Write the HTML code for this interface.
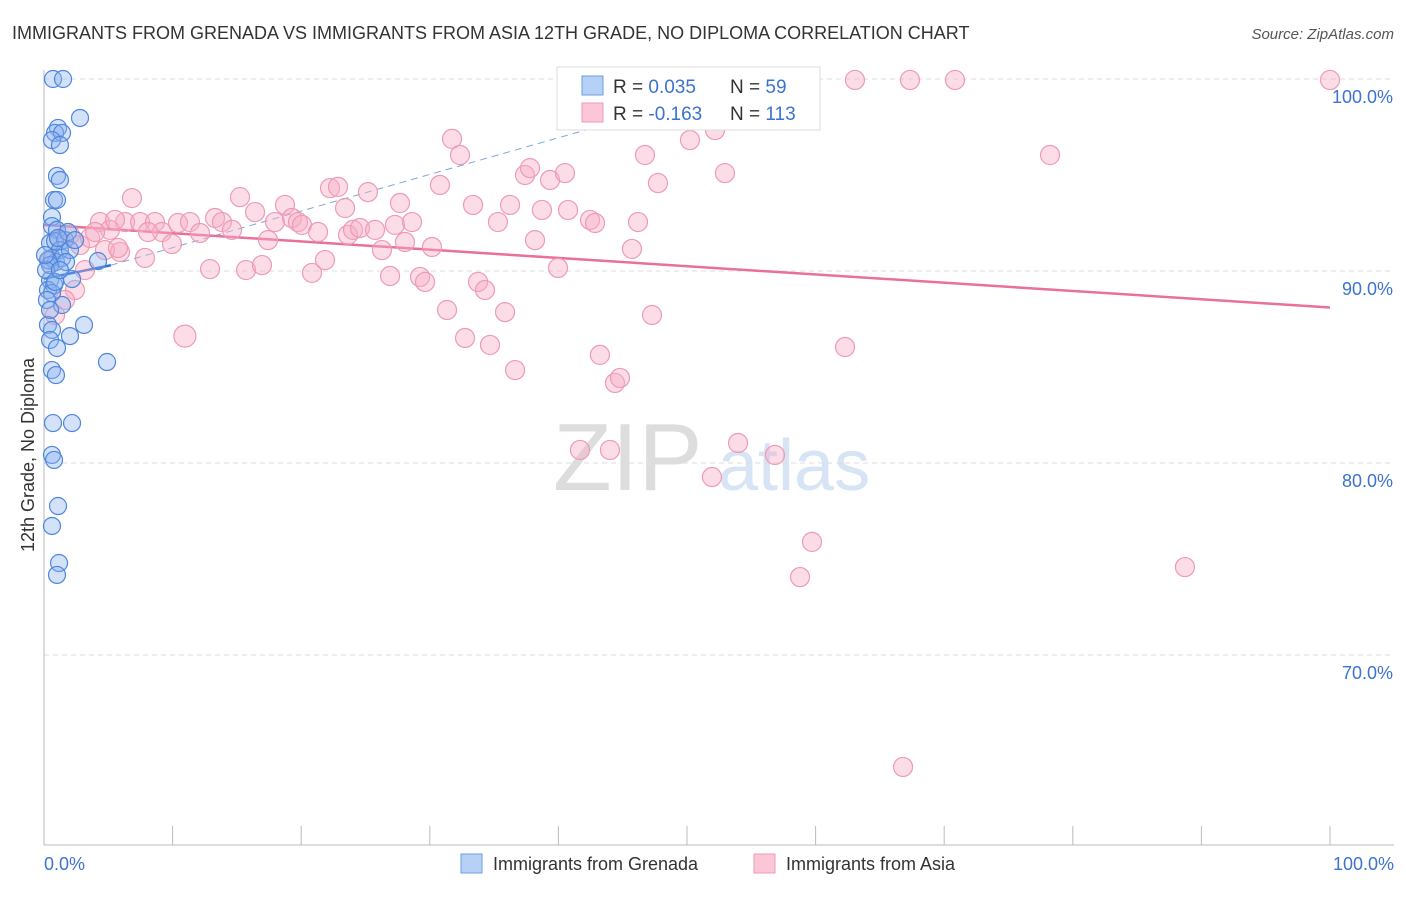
<!DOCTYPE html>
<html><head><meta charset="utf-8">
<style>
body{margin:0;background:#fff;font-family:"Liberation Sans",sans-serif;}
svg text{font-family:"Liberation Sans",sans-serif;}
</style></head>
<body>
<svg id="chart" width="1406" height="892" xmlns="http://www.w3.org/2000/svg">
<text x="12" y="39" font-size="18" fill="#333">IMMIGRANTS FROM GRENADA VS IMMIGRANTS FROM ASIA 12TH GRADE, NO DIPLOMA CORRELATION CHART</text>
<text x="1394" y="39" font-size="15" fill="#555" font-style="italic" text-anchor="end">Source: ZipAtlas.com</text>
<text transform="translate(34,455) rotate(-90)" font-size="18" fill="#333" text-anchor="middle">12th Grade, No Diploma</text>
<g><text x="553" y="490" font-size="96" fill="#ddd" font-family="Liberation Serif">ZIP</text><text x="718" y="490" font-size="72" fill="#d6e4f5">atlas</text></g>
<g id="grid"></g><g id="xticks"></g><g id="trend"></g><g id="pts"></g>
<g>
<rect x="557" y="67" width="263" height="63" fill="#fff" stroke="#ddd"/>
<rect x="582" y="76" width="21" height="19" fill="#b7d0f5" stroke="#6e9ee0"/>
<rect x="582" y="103" width="21" height="19" fill="#fbc6d6" stroke="#ec9bb4"/>
<text x="613" y="93" font-size="19" fill="#333">R = <tspan fill="#3c72d0">0.035</tspan></text>
<text x="730" y="93" font-size="19" fill="#333">N = <tspan fill="#3c72d0"> 59</tspan></text>
<text x="613" y="120" font-size="19" fill="#333">R = <tspan fill="#3c72d0">-0.163</tspan></text>
<text x="730" y="120" font-size="19" fill="#333">N = <tspan fill="#3c72d0">113</tspan></text>
</g>
<g>
<rect x="461" y="854" width="21" height="19" fill="#b7d0f5" stroke="#6e9ee0"/>
<text x="493" y="870" font-size="18" fill="#333">Immigrants from Grenada</text>
<rect x="754" y="854" width="21" height="19" fill="#fbc6d6" stroke="#ec9bb4"/>
<text x="786" y="870" font-size="18" fill="#333">Immigrants from Asia</text>
</g>
<text x="44" y="870" font-size="18" fill="#3c72d0">0.0%</text>
<text x="1394" y="870" font-size="18" fill="#3c72d0" text-anchor="end">100.0%</text>
</svg>
<script>
const yTicks=[100,90,80,70];
const yTickLabels=["100.0%","90.0%","80.0%","70.0%"];
const xTicks=[0,10,20,30,40,50,60,70,80,90,100];
const grenadaPx=[[53,79],[63,79],[58,128],[80,118],[55,133],[62,133],[52,140],[60,145],[57,176],[60,180],[54,200],[57,200],[52,217],[52,226],[57,230],[50,243],[55,241],[65,240],[60,250],[52,258],[56,262],[62,258],[98,261],[72,279],[50,280],[54,285],[48,290],[52,293],[62,305],[84,325],[48,325],[52,330],[70,336],[50,340],[57,348],[107,362],[52,370],[56,375],[53,423],[72,423],[52,455],[54,460],[58,506],[52,526],[59,563],[57,575],[48,260],[50,265],[70,250],[68,232],[75,240],[47,300],[50,310],[66,262],[46,270],[58,238],[45,255],[55,282],[60,270]];
const asiaPx=[[132,198],[100,222],[125,222],[140,222],[155,222],[162,232],[172,244],[185,336],[178,223],[190,222],[200,233],[210,269],[215,218],[222,222],[232,230],[240,197],[246,270],[255,212],[262,265],[268,240],[275,222],[285,205],[292,218],[298,222],[302,225],[312,273],[318,232],[325,260],[330,188],[338,187],[345,208],[348,235],[353,230],[360,228],[368,192],[375,230],[382,250],[390,276],[395,225],[400,203],[405,242],[412,222],[420,277],[425,282],[432,247],[440,185],[447,310],[452,139],[460,155],[465,338],[473,205],[478,282],[485,290],[490,345],[498,222],[505,312],[510,205],[515,370],[525,175],[530,168],[535,240],[542,210],[550,180],[558,268],[565,173],[568,210],[580,450],[590,220],[595,223],[600,355],[610,450],[615,383],[620,378],[632,249],[638,222],[645,155],[652,315],[658,183],[690,140],[715,130],[712,477],[725,173],[738,443],[760,80],[775,455],[800,577],[812,542],[845,347],[855,80],[903,767],[910,80],[955,80],[1050,155],[1185,567],[1330,80],[60,240],[70,235],[80,245],[90,238],[110,230],[85,270],[75,290],[55,315],[65,300],[120,252],[145,258],[95,232],[105,250],[50,260],[115,220],[148,232],[118,248]];
// data values derived from read positions
const grenadaX=grenadaPx.map(p=>+((p[0]-44)/12.86).toFixed(2));
const grenadaY=grenadaPx.map(p=>+(100-(p[1]-79)/19.2).toFixed(2));
const asiaX=asiaPx.map(p=>+((p[0]-44)/12.86).toFixed(2));
const asiaY=asiaPx.map(p=>+(100-(p[1]-79)/19.2).toFixed(2));
const grenadaTrend=[[0,89.6],[5.2,90.3],[55,99.8]];
const asiaTrend=[[0,92.4],[100,88.1]];
const X=v=>44+v*12.86, Y=v=>79+(100-v)*19.2;
const NS="http://www.w3.org/2000/svg";
function mk(t,a,p){const e=document.createElementNS(NS,t);for(const k in a)e.setAttribute(k,a[k]);p.appendChild(e);return e;}
const grid=document.getElementById('grid');
yTicks.forEach((v,i)=>{
 const l=mk('line',{x1:44,x2:1394,y1:Y(v),y2:Y(v),stroke:'#ddd','stroke-dasharray':'5,4'},grid);
 
 
 const t=mk('text',{x:1393,y:Y(v)+24,'font-size':18,fill:'#3c72d0','text-anchor':'end'},grid);
 t.textContent=yTickLabels[i];
 
 
});
const xt=document.getElementById('xticks');
const ax=mk('line',{x1:44,x2:1394,y1:845,y2:845,stroke:'#bbb'},xt);


const ay=mk('line',{x1:44,x2:44,y1:70,y2:845,stroke:'#bbb'},xt);


xTicks.forEach(v=>{const l=mk('line',{x1:X(v),x2:X(v),y1:826,y2:845,stroke:'#bbb'},xt);
 
 });
const tr=document.getElementById('trend');
const g1=mk('line',{x1:X(grenadaTrend[0][0]),y1:Y(grenadaTrend[0][1]),x2:X(grenadaTrend[1][0]),y2:Y(grenadaTrend[1][1]),stroke:'#2f6fd6','stroke-width':2.5},tr);


const g2=mk('line',{x1:X(grenadaTrend[1][0]),y1:Y(grenadaTrend[1][1]),x2:X(grenadaTrend[2][0]),y2:Y(grenadaTrend[2][1]),stroke:'#7fa6e0','stroke-width':1,'stroke-dasharray':'7,5'},tr);


const a1=mk('line',{x1:X(asiaTrend[0][0]),y1:Y(asiaTrend[0][1]),x2:X(asiaTrend[1][0]),y2:Y(asiaTrend[1][1]),stroke:'#e8709a','stroke-width':2.5},tr);


const pts=document.getElementById('pts');
asiaX.forEach((x,i)=>{const c=mk('circle',{cx:X(x),cy:Y(asiaY[i]),r:(i==7?11:9.5),fill:'rgba(248,175,198,0.42)',stroke:'#ec9bb4','stroke-width':1.2},pts);
 
 });
grenadaX.forEach((x,i)=>{const c=mk('circle',{cx:X(x),cy:Y(grenadaY[i]),r:8.5,fill:'rgba(140,180,240,0.38)',stroke:'#4f86dc','stroke-width':1.2},pts);
 
 });
</script>
</body></html>
